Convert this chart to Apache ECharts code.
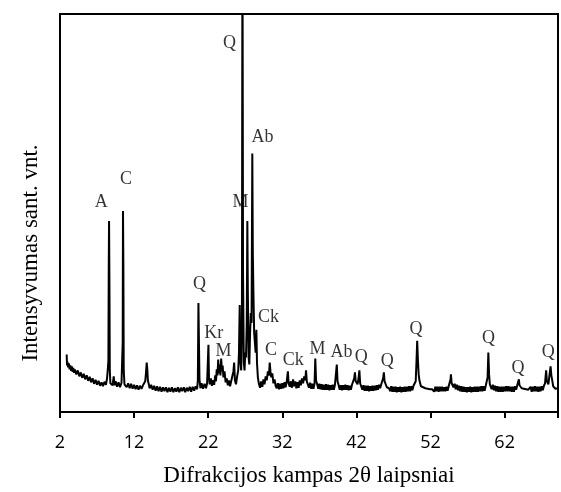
<!DOCTYPE html>
<html>
<head>
<meta charset="utf-8">
<script src="https://cdn.jsdelivr.net/npm/echarts@6/dist/echarts.min.js"></script>
<style>
  html, body { margin: 0; padding: 0; background: #fff; }
  #chart { width: 561px; height: 492px; }
</style>
</head>
<body>
<div id="chart"></div>
<script>
// XRD pattern, [2θ, intensity] in arbitrary units
const patternLow = [
  [2.9,580],[2.95,470],[3.0,510],[3.1,450],[3.2,490],[3.3,430],[3.4,470],[3.5,415],[3.6,460],[3.7,405],
  [3.8,445],[3.9,395],[4.0,430],[4.2,380],[4.4,420],[4.6,360],[4.8,400],[5.0,345],[5.2,385],[5.4,330],
  [5.6,370],[5.8,315],[6.0,355],[6.2,300],[6.4,340],[6.6,285],[6.8,325],[7.0,275],[7.2,315],[7.4,265],
  [7.6,300],[7.8,260],[8.0,305],[8.2,275],[8.35,340],[8.45,430],[8.53,520],[8.58,1500],[8.62,1930],[8.67,1300],
  [8.72,420],[8.8,290],[8.95,310],[9.1,270],[9.25,360],[9.35,270],[9.5,310],[9.7,255],[9.9,300],[10.1,250],
  [10.3,295],[10.4,300],[10.46,700],[10.5,2030],[10.55,1500],[10.6,420],[10.7,280],[10.85,300],[11.0,250],[11.2,290],
  [11.4,240],[11.6,285],[11.8,235],[12.0,275],[12.2,230],[12.4,270],[12.6,225],[12.8,265],[13.0,235],[13.2,270],
  [13.4,250],[13.5,310],[13.6,390],[13.7,500],[13.78,430],[13.86,320],[13.95,290],[14.1,240],[14.3,275],[14.5,225],
  [14.7,265],[14.9,215],[15.1,260],[15.3,210],[15.5,255],[15.7,205],[15.9,250],[16.1,210],[16.3,250],[16.5,200],
  [16.7,245],[16.9,205],[17.1,250],[17.3,200],[17.5,240],[17.7,205],[17.9,250],[18.1,200],[18.3,245],[18.5,210],
  [18.7,250],[18.9,200],[19.1,245],[19.3,210],[19.5,255],[19.7,205],[19.9,255],[20.1,215],[20.3,260],[20.5,230]
];

const patternMain = [
  [20.6,320],[20.68,1100],[20.75,700],[20.82,330],[20.95,240],[21.1,290],[21.3,235],[21.5,285],[21.7,240],[21.85,290],
  [21.95,300],[22.03,680],[22.1,350],[22.2,280],[22.35,340],[22.5,265],[22.65,320],[22.8,275],[22.95,370],[23.05,310],
  [23.15,430],[23.25,370],[23.35,530],[23.45,390],[23.55,480],[23.65,370],[23.75,540],[23.85,410],[23.95,470],[24.05,350],
  [24.2,410],[24.35,300],[24.5,340],[24.65,270],[24.8,320],[24.95,260],[25.1,310],[25.25,330],[25.4,410],[25.5,500],
  [25.6,320],[25.75,280],[25.9,360],[26.05,420],[26.15,600],[26.25,1080],[26.35,500],[26.45,420],[26.55,900],[26.62,5000],
  [26.7,1400],[26.8,500],[26.9,420],[27.0,600],[27.1,550],[27.2,900],[27.28,1930],[27.35,1200],[27.45,550],[27.55,480],
  [27.65,800],[27.75,1000],[27.85,900],[27.95,2610],[28.02,1600],[28.1,1200],[28.2,800],[28.3,700],[28.4,600],[28.5,830],
  [28.58,500],[28.7,350],[28.85,280],[29.0,245],[29.15,310],[29.3,255],[29.45,330],[29.6,280],[29.75,360],[29.9,320],
  [30.05,410],[30.2,370],[30.3,500],[30.4,410],[30.5,350],[30.65,390],[30.8,290],[30.95,330]
];

const patternHigh = [
  [31.1,265],[31.25,240],[31.4,290],[31.55,230],[31.7,285],[31.85,235],[32.0,290],[32.15,240],[32.3,300],[32.45,250],
  [32.6,310],[32.75,410],[32.85,290],[33.0,255],[33.15,310],[33.3,245],[33.45,330],[33.6,260],[33.75,310],[33.9,240],
  [34.05,300],[34.2,245],[34.35,320],[34.5,270],[34.65,340],[34.8,290],[34.95,360],[35.1,320],[35.2,420],[35.3,310],
  [35.45,290],[35.6,245],[35.75,295],[35.9,235],[36.05,285],[36.2,235],[36.35,290],[36.45,540],[36.55,320],[36.7,280],
  [36.85,235],[37.0,285],[37.15,230],[37.3,280],[37.45,225],[37.6,275],[37.75,225],[37.9,280],[38.05,225],[38.2,275],
  [38.35,220],[38.5,270],[38.65,225],[38.8,275],[38.95,225],[39.1,275],[39.25,290],[39.35,480],[39.45,310],[39.6,270],
  [39.75,225],[39.9,270],[40.05,220],[40.2,270],[40.35,225],[40.5,275],[40.65,225],[40.8,270],[40.95,220],[41.1,265],
  [41.25,225],[41.4,275],[41.55,270],[41.7,340],[41.8,400],[41.9,310],[42.0,300],[42.15,280],[42.3,350],[42.4,420],
  [42.5,290],[42.65,270],[42.8,225],[42.95,270],[43.1,215],[43.25,265],[43.4,215],[43.55,265],[43.7,210],[43.85,260],
  [44.0,215],[44.15,265],[44.3,215],[44.45,265],[44.6,220],[44.75,270],[44.9,225],[45.05,275],[45.2,240],[45.35,280],
  [45.5,290],[45.6,340],[45.7,400],[45.8,310],[45.95,295],[46.1,250],[46.25,250],[46.4,240],[46.55,210],[46.7,260],
  [46.85,205],[47.0,255],[47.15,205],[47.3,255],[47.45,200],[47.6,250],[47.75,205],[47.9,255],[48.05,200],[48.2,250],
  [48.35,205],[48.5,255],[48.65,205],[48.8,255],[48.95,210],[49.1,260],[49.25,210],[49.4,260],[49.55,220],[49.7,265],
  [49.85,250],[50.0,310],[50.1,500],[50.2,720],[50.3,520],[50.4,380],[50.5,320],[50.6,310],[50.7,260],[50.85,265],
  [51.0,250],[51.15,255],[51.3,240],[51.45,245],[51.6,235],[51.75,240],[51.9,230],[52.05,240],[52.2,230],[52.35,235],
  [52.5,205],[52.65,255],[52.8,210],[52.95,255],[53.1,205],[53.25,255],[53.4,210],[53.55,255],[53.7,210],[53.85,250],
  [54.0,210],[54.15,255],[54.3,215],[54.45,260],[54.6,250],[54.7,330],[54.75,380],[54.85,290],[54.95,290],[55.1,250],
  [55.25,285],[55.4,230],[55.55,275],[55.7,220],[55.85,265],[56.0,210],[56.15,260],[56.3,205],[56.45,255],[56.6,205],
  [56.75,250],[56.9,200],[57.05,250],[57.2,205],[57.35,255],[57.5,200],[57.65,250],[57.8,205],[57.95,255],[58.1,205],
  [58.25,255],[58.4,205],[58.55,255],[58.7,210],[58.85,260],[59.0,210],[59.15,260],[59.3,215],[59.45,265],[59.6,250],
  [59.7,350],[59.8,600],[59.9,380],[60.0,280],[60.1,270],[60.25,230],[60.4,275],[60.55,220],[60.7,265],[60.85,210],
  [61.0,260],[61.15,205],[61.3,255],[61.45,205],[61.6,255],[61.75,205],[61.9,255],[62.05,210],[62.2,260],[62.35,210],
  [62.5,260],[62.65,210],[62.8,255],[62.95,205],[63.1,255],[63.25,205],[63.4,260],[63.55,225],[63.7,270],[63.85,280],
  [63.92,330],[64.0,270],[64.15,260],[64.3,240],[64.45,250],[64.6,235],[64.75,245],[64.9,230],[65.05,240],[65.2,225],
  [65.35,205],[65.5,255],[65.65,205],[65.8,255],[65.95,210],[66.1,260],[66.25,210],[66.4,255],[66.55,205],[66.7,255],
  [66.85,210],[67.0,260],[67.15,220],[67.3,265],[67.45,290],[67.6,420],[67.7,310],[67.8,305],[67.9,280],[68.0,340],
  [68.1,400],[68.2,460],[68.3,370],[68.4,330],[68.55,260],[68.7,255],[68.85,235],[69.0,255],[69.2,240]
];

// phase labels: name, 2θ and intensity where the text sits
const phaseNames = ['A', 'C', 'Q', 'M', 'Ab', 'Q', 'Kr', 'M', 'Ck', 'C', 'Ck', 'M', 'Ab', 'Q', 'Q', 'Q', 'Q', 'Q', 'Q'];
const phaseTheta = [7.55, 10.91, 24.88, 26.36, 29.31, 20.81, 22.73, 24.07, 30.12, 30.48, 33.48, 36.74, 39.97, 42.66, 46.15, 50.04, 59.81, 63.80, 67.87];
const phaseLevel = [2120, 2350, 3720, 2120, 2770, 1290, 800, 610, 960, 620, 527, 633, 600, 550, 517, 833, 740, 443, 600];

const xTicks = [2, 12, 22, 32, 42, 52, 62];

const pattern = patternLow.concat(patternMain, patternHigh);
const labelData = phaseNames.map((n, i) => ({ value: [phaseTheta[i], phaseLevel[i]], name: n }));

const chart = echarts.init(document.getElementById('chart'));

chart.setOption({
  animation: false,
  backgroundColor: '#fff',
  grid: {
    left: 60,
    right: 0,
    top: 14,
    bottom: 76,
    show: true,
    borderColor: '#000',
    borderWidth: 2,
  },
  xAxis: {
    type: 'value',
    min: xTicks[0],
    max: 69.2,
    interval: 10,
    name: 'Difrakcijos kampas 2θ laipsniai',
    nameLocation: 'middle',
    nameGap: 52,
    nameTextStyle: { fontFamily: 'Liberation Serif', fontSize: 23, color: '#000' },
    axisLine: { lineStyle: { color: '#000', width: 2 } },
    axisTick: { show: true, inside: false, length: 6, lineStyle: { color: '#000', width: 2 } },
    axisLabel: {
      margin: 22,
      fontFamily: 'Open Sans',
      fontSize: 18,
      color: '#000',
      formatter: (v) => (xTicks.includes(v) ? String(v) : ''),
    },
    splitLine: { show: false },
  },
  yAxis: {
    type: 'value',
    min: 0,
    max: 4020,
    axisLine: { show: true, lineStyle: { color: '#000', width: 2 } },
    axisTick: { show: false },
    axisLabel: { show: false },
    splitLine: { show: false },
  },
  graphic: [
    {
      type: 'text',
      x: 31,
      y: 253,
      rotation: Math.PI / 2,
      style: {
        text: 'Intensyvumas sant. vnt.',
        fontFamily: 'Liberation Serif',
        fontSize: 23,
        fill: '#000',
        align: 'center',
        verticalAlign: 'middle',
      },
    },
  ],
  series: [
    {
      type: 'line',
      data: pattern,
      symbol: 'none',
      clip: true,
      lineStyle: { color: '#000', width: 2 },
      z: 2,
    },
    {
      type: 'scatter',
      data: labelData,
      symbolSize: 0,
      silent: true,
      label: {
        show: true,
        position: 'inside',
        formatter: '{b}',
        fontFamily: 'Liberation Serif',
        fontSize: 18,
        color: '#000',
      },
      z: 3,
    },
  ],
});
</script>
</body>
</html>
